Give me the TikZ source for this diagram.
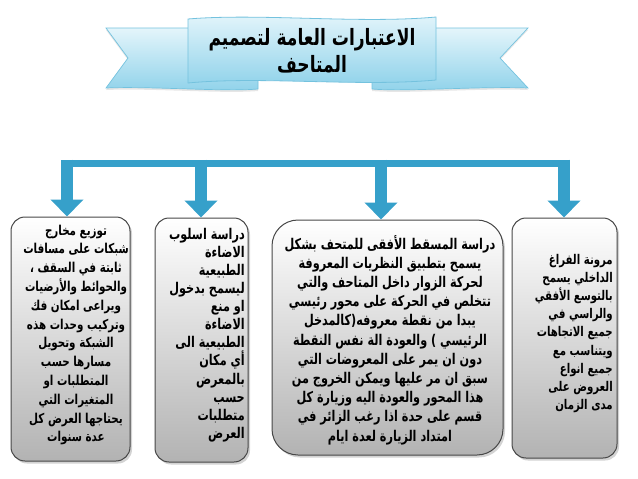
\documentclass[tikz,border=0pt]{standalone}
\usepackage{fontspec}
\newfontfamily\arabicfont[Script=Arabic, FakeStretch=0.76]{DejaVu Sans}
\TeXXeTstate=1
\usetikzlibrary{arrows.meta,shadows,positioning}
\definecolor{feedblue}{HTML}{36A0CA}
\definecolor{bannertop}{HTML}{E4F5FB}
\definecolor{bannermid}{HTML}{C2E9F6}
\definecolor{bannerbot}{HTML}{8FD2EA}
\definecolor{bannerline}{HTML}{74C2DE}
\newcommand\rl[1]{\beginR #1\endR}

\begin{document}
\begin{tikzpicture}[x=1pt,y=-1pt,
  box/.style={draw=black!72, line width=1pt, rounded corners=14pt,
    top color=white, bottom color=black!30,
    drop shadow={opacity=0.35, shadow xshift=2pt, shadow yshift=-2.5pt}},
  para/.style 2 args={font=\arabicfont\bfseries\fontsize{#1}{#2}\selectfont, inner sep=0pt},
  ribbon/.style={draw=bannerline, line width=0.7pt, top color=bannertop, middle color=bannermid, bottom color=bannerbot},
  trunk/.style={draw=feedblue, line width=7pt},
  feed/.style={draw=feedblue, line width=12pt, -{Triangle[width=32pt,length=17pt]}}]
  \useasboundingbox (0,0) rectangle (638,479);

  % banner
  \shadedraw[ribbon, drop shadow={opacity=0.2, shadow xshift=0pt, shadow yshift=-2pt}]
    (106,28) -- (258,28) -- (258,89) .. controls (225,92) and (150,86) .. (106,88) -- (128,58) -- cycle;
  \shadedraw[ribbon, drop shadow={opacity=0.2, shadow xshift=0pt, shadow yshift=-2pt}]
    (372,28) -- (528,28) -- (500,58) -- (528,88) .. controls (480,86) and (405,92) .. (372,89) -- cycle;
  \shadedraw[ribbon, line width=0.8pt]
    (188,19) .. controls (260,13) and (360,24) .. (436,17) -- (436,80)
    .. controls (360,87) and (260,76) .. (188,83) -- cycle;
  \node[font=\arabicfont\bfseries\fontsize{22.5}{27}\selectfont, align=center] (title) at (312,51)
    {\rl{الاعتبارات العامة لتصميم}\\\rl{المتاحف}};

  % boxes
  \node[box, minimum width=119pt, minimum height=244pt] (b1) at (70.5,339) {};
  \node[box, minimum width=93pt, minimum height=244pt] (b2) at (201.5,340) {};
  \node[box, rounded corners=26pt, minimum width=231pt, minimum height=235pt] (b3) at (387.5,337.5) {};
  \node[box, minimum width=105pt, minimum height=240pt] (b4) at (564.5,338) {};

  \node[para={13.6}{18.8}, align=center] (t1) at (76,335)
    {\rl{توزيع مخارج}\\\rl{شبكات على مسافات}\\\rl{ثابتة في السقف ،}\\\rl{والحوائط والأرضيات}\\
     \rl{ويراعى امكان فك}\\\rl{وتركيب وحدات هذه}\\\rl{الشبكة وتحويل}\\\rl{مسارها حسب}\\
     \rl{المتطلبات او}\\\rl{المتغيرات التي}\\\rl{يحتاجها العرض كل}\\\rl{عدة سنوات}};
  \node[para={14.8}{18.1}, align=right, anchor=east] (t2) at (245,335)
    {\rl{دراسة اسلوب}\\\rl{الاضاءة}\\\rl{الطبيعية}\\\rl{ليسمح بدخول}\\\rl{او منع}\\\rl{الاضاءة}\\
     \rl{الطبيعية الى}\\\rl{أي مكان}\\\rl{بالمعرض}\\\rl{حسب}\\\rl{متطلبات}\\\rl{العرض}};
  \node[para={14.8}{19.2}, align=center] (t3) at (390,340)
    {\rl{دراسة المسقط الأفقى للمتحف بشكل}\\\rl{يسمح بتطبيق النظريات المعروفة}\\
     \rl{لحركة الزوار داخل المتاحف والتي}\\\rl{تتخلص في الحركة على محور رئيسي}\\
     \rl{يبدا من نقطة معروفه(كالمدخل}\\\rl{الرئيسي ) والعودة الة نفس النقطة}\\
     \rl{دون ان يمر على المعروضات التي}\\\rl{سبق ان مر عليها ويمكن الخروج من}\\
     \rl{هذا المحور والعودة اليه وزيارة كل}\\\rl{قسم على حدة اذا رغب الزائر في}\\
     \rl{امتداد الزيارة لعدة ايام}};
  \node[para={13.4}{18.1}, align=right, anchor=east] (t4) at (613,333.5)
    {\rl{مرونة الفراغ}\\\rl{الداخلي يسمح}\\\rl{بالتوسع الأفقي}\\\rl{والراسي في}\\
     \rl{جميع الاتجاهات}\\\rl{ويتناسب مع}\\\rl{جميع انواع}\\\rl{العروض على}\\\rl{مدى الزمان}};

  % connectors
  \foreach \i/\x in {1/67,2/201,3/381,4/564}
    \coordinate (j\i) at (\x,159.5);
  \draw[trunk] ([shift={(-6,3.5)}]j1) -- ([shift={(6,3.5)}]j4);
  \foreach \i in {1,...,4}
    \draw[feed] (j\i) -- (j\i |- b\i.north);
\end{tikzpicture}
\end{document}
